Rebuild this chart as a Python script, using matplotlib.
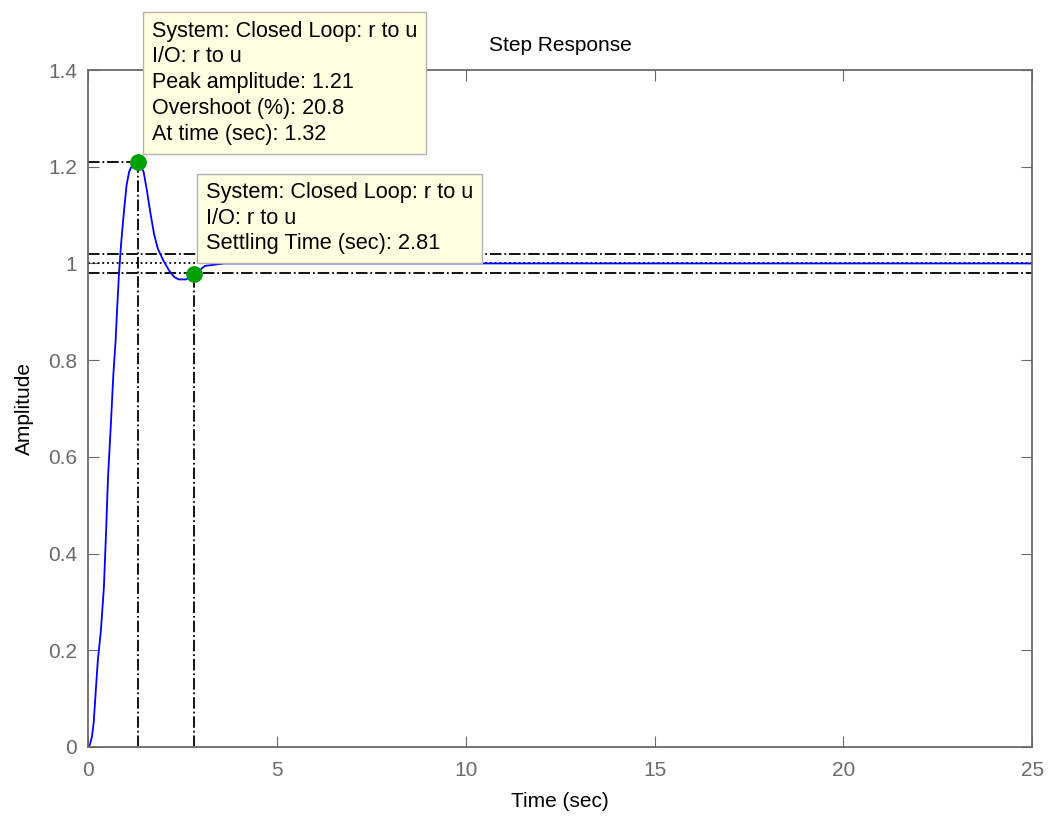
import numpy as np
import matplotlib
matplotlib.use('Agg')
import matplotlib.pyplot as plt

plt.rcParams['font.family'] = ['Liberation Sans', 'DejaVu Sans']

# step response
t = [0, 0.05, 0.1, 0.15, 0.2, 0.26, 0.34, 0.42, 0.48, 0.53, 0.6, 0.67, 0.73,
     0.76, 0.82, 0.88, 0.95, 1.02, 1.09, 1.18, 1.32, 1.47, 1.55, 1.65, 1.75,
     1.85, 2.0, 2.15, 2.28, 2.40, 2.60, 2.81, 3.1, 3.6, 6.0, 25.0]
y = [0, 0.005, 0.02, 0.05, 0.11, 0.18, 0.24, 0.33, 0.45, 0.56, 0.66, 0.77, 0.84,
     0.89, 0.98, 1.045, 1.107, 1.162, 1.19, 1.205, 1.21, 1.19, 1.155, 1.105, 1.06,
     1.03, 1.005, 0.985, 0.972, 0.967, 0.967, 0.978, 0.995, 1.0, 1.0, 1.0]

peak_t, peak_y = 1.32, 1.21
settle_t, settle_y = 2.81, 0.978
final = 1.0
band = [1.02, 0.98]

peak_txt = ["System: Closed Loop: r to u", "I/O: r to u", "Peak amplitude: 1.21",
            "Overshoot (%): 20.8", "At time (sec): 1.32"]
settle_txt = ["System: Closed Loop: r to u", "I/O: r to u", "Settling Time (sec): 2.81"]

fig = plt.figure(figsize=(10.48, 8.18), dpi=100)
ax = fig.add_axes([0.084, 0.0868, 0.901, 0.8276])

# reference lines
ax.axhline(final, color='k', ls=':', lw=1.3)
for b in band:
    ax.axhline(b, color='k', ls='-.', lw=1.3)
ax.plot([0, peak_t], [peak_y, peak_y], color='k', ls='-.', lw=1.3)
ax.plot([peak_t, peak_t], [0, peak_y], color='k', ls='-.', lw=1.3)
ax.plot([settle_t, settle_t], [0, settle_y], color='k', ls='-.', lw=1.3)

ax.plot(t, y, color='#0000ff', lw=1.3)

ax.plot([peak_t, settle_t], [peak_y, settle_y], 'o', color='#00a000', ms=11, mec='#00a000')

box = dict(boxstyle='square,pad=0.4', fc='#ffffe1', ec='#b4b4b4', lw=1)
ax.annotate("\n".join(peak_txt), xy=(peak_t, peak_y), xytext=(14, 17),
            textcoords='offset pixels', ha='left', va='bottom', fontsize=15.5,
            linespacing=1.3, bbox=box, annotation_clip=False, zorder=10)
ax.annotate("\n".join(settle_txt), xy=(settle_t, settle_y), xytext=(12, 20),
            textcoords='offset pixels', ha='left', va='bottom', fontsize=15.7,
            linespacing=1.27, bbox=box, annotation_clip=False, zorder=10)

ax.set_xlim(0, 25)
ax.set_ylim(0, 1.4)
ax.set_xticks([0, 5, 10, 15, 20, 25])
ax.set_yticks([0, 0.2, 0.4, 0.6, 0.8, 1.0, 1.2, 1.4])
ax.set_yticklabels(['0', '0.2', '0.4', '0.6', '0.8', '1', '1.2', '1.4'])
gray = '#6a6a6a'
for s in ax.spines.values():
    s.set_color(gray)
    s.set_linewidth(1.3)
ax.tick_params(direction='in', top=True, right=True, colors=gray, labelsize=15,
               length=8, labelcolor=gray)
ax.tick_params(axis='y', pad=8)
ax.tick_params(axis='x', pad=10)

ax.set_title("Step Response", fontsize=15, pad=14)
ax.set_xlabel("Time (sec)", fontsize=15, labelpad=9)
ax.set_ylabel("Amplitude", fontsize=15, labelpad=10)

fig.savefig("out.png", dpi=100)
